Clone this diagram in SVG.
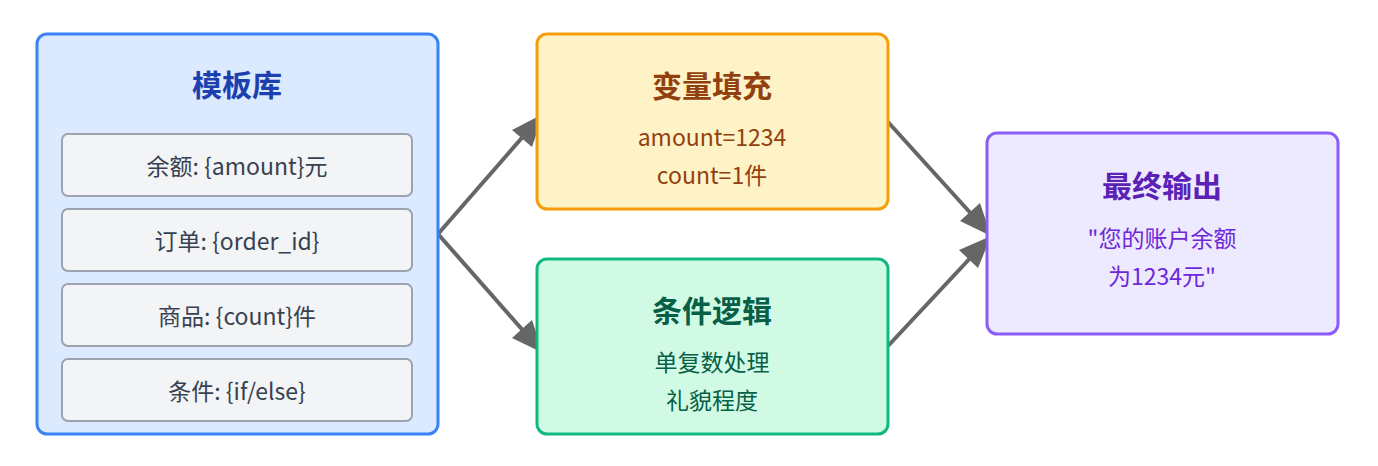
<svg xmlns="http://www.w3.org/2000/svg" width="1378" height="466" viewBox="0 0 1378 466">
<style>
text{font-family:"Noto Sans CJK SC","Noto Sans",sans-serif;text-anchor:middle;dominant-baseline:central}
.t{font-size:30px;font-weight:bold}
.b{font-size:23px}
.item rect{fill:#f3f4f6;stroke:#9ca3af;stroke-width:2}
.item text{fill:#374151}
.c{stroke:#666;stroke-width:4;fill:none}
.h{fill:#666}
</style>
<rect width="1378" height="466" fill="#fff"/>
<g id="connectors">
<path class="c" d="M438,234 L527,132"/>
<polygon class="h" points="543,114 532,147 512,130"/>
<path class="c" d="M438,234 L527,335"/>
<polygon class="h" points="543,353 512,338 532,320"/>
<path class="c" d="M888,122 L975,218"/>
<polygon class="h" points="991,236 960,221 980,203"/>
<path class="c" d="M888,346 L975,253"/>
<polygon class="h" points="991,236 978,268 959,250"/>
</g>
<g id="library">
<rect x="37" y="34" width="401" height="400" rx="10" fill="#dbeafe" stroke="#3b82f6" stroke-width="3"/>
<text class="t" x="237" y="83" fill="#1e40af">模板库</text>
<g class="item"><rect x="62" y="134" width="350" height="62" rx="6"/><text class="b" x="237" y="165">余额: {amount}元</text></g>
<g class="item"><rect x="62" y="209" width="350" height="62" rx="6"/><text class="b" x="237" y="240">订单: {order_id}</text></g>
<g class="item"><rect x="62" y="284" width="350" height="62" rx="6"/><text class="b" x="237" y="315">商品: {count}件</text></g>
<g class="item"><rect x="62" y="359" width="350" height="62" rx="6"/><text class="b" x="237" y="390">条件: {if/else}</text></g>
</g>
<g id="fill">
<rect x="537" y="34" width="351" height="175" rx="10" fill="#fef3c7" stroke="#f59e0b" stroke-width="3"/>
<text class="t" x="712" y="84" fill="#92400e">变量填充</text>
<text class="b" x="712" y="136" fill="#92400e">amount=1234</text>
<text class="b" x="712" y="174" fill="#92400e">count=1件</text>
</g>
<g id="logic">
<rect x="537" y="259" width="351" height="175" rx="10" fill="#d1fae5" stroke="#10b981" stroke-width="3"/>
<text class="t" x="712" y="309" fill="#065f46">条件逻辑</text>
<text class="b" x="712" y="361" fill="#065f46">单复数处理</text>
<text class="b" x="712" y="399" fill="#065f46">礼貌程度</text>
</g>
<g id="output">
<rect x="987" y="133" width="351" height="201" rx="10" fill="#ede9fe" stroke="#8b5cf6" stroke-width="3"/>
<text class="t" x="1162" y="184" fill="#5b21b6">最终输出</text>
<text class="b" x="1162" y="237" fill="#6d28d9">"您的账户余额</text>
<text class="b" x="1162" y="275" fill="#6d28d9">为1234元"</text>
</g>
</svg>
